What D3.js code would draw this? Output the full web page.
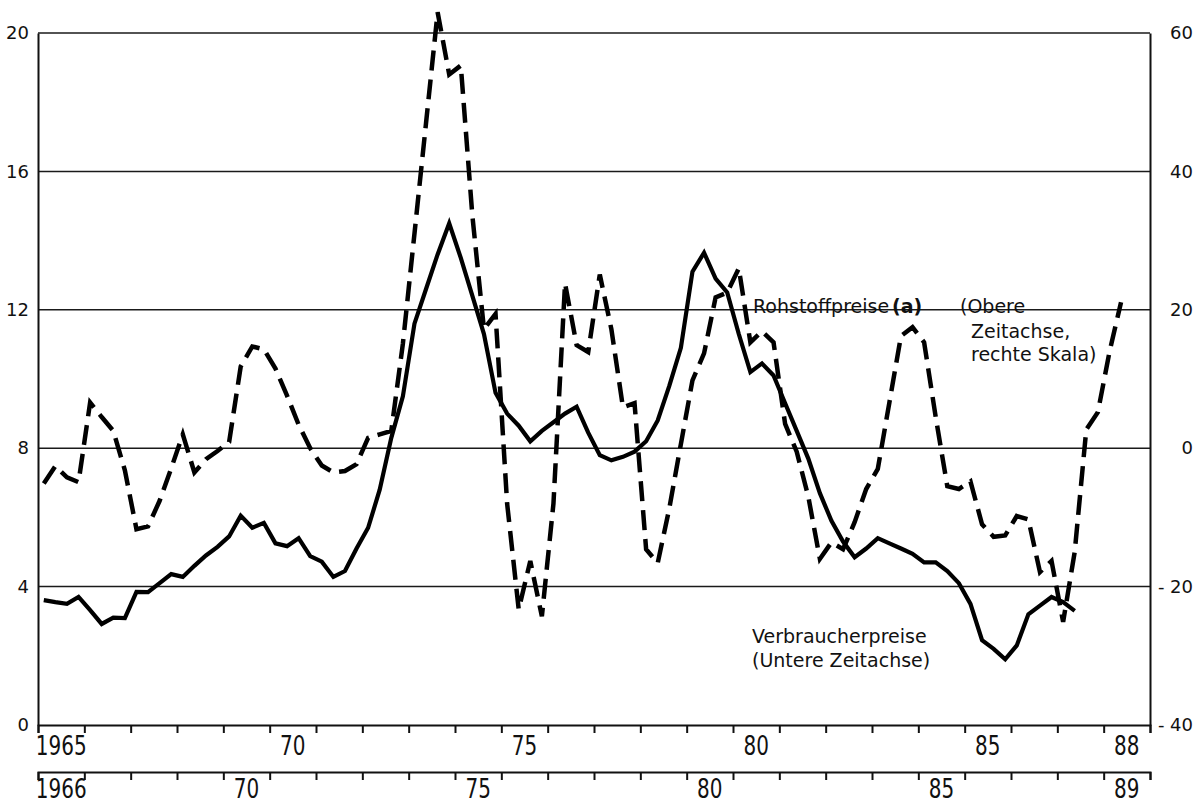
<!DOCTYPE html>
<html>
<head>
<meta charset="utf-8">
<script src="https://cdn.jsdelivr.net/npm/d3@7"></script>
<style>
  body { margin: 0; background: #fff; }
  svg { display: block; }
  text { font-family: "DejaVu Sans", sans-serif; fill: #111; }
</style>
</head>
<body>
<div id="chart"></div>
<script>
// Verbraucherpreise, quarterly from 1966 Q1 (left scale, lower time axis)
const consumerStart = 1966;
const consumerPrices = [
  3.61, 3.55, 3.50, 3.70, 3.32, 2.92, 3.10, 3.09, 3.85, 3.84,
  4.10, 4.36, 4.28, 4.60, 4.90, 5.15, 5.45, 6.05, 5.70, 5.84,
  5.25, 5.17, 5.40, 4.88, 4.72, 4.28, 4.45, 5.10, 5.70, 6.80,
  8.30, 9.50, 11.60, 12.60, 13.60, 14.50, 13.50, 12.40, 11.30, 9.60,
  9.00, 8.65, 8.20, 8.50, 8.75, 9.00, 9.20, 8.45, 7.80, 7.65,
  7.75, 7.90, 8.20, 8.80, 9.80, 10.90, 13.10, 13.65, 12.90, 12.50,
  11.30, 10.20, 10.45, 10.10, 9.30, 8.50, 7.70, 6.70, 5.90, 5.30,
  4.85, 5.10, 5.40, 5.25, 5.10, 4.95, 4.70, 4.70, 4.45, 4.10,
  3.50, 2.45, 2.20, 1.90, 2.30, 3.20, 3.45, 3.70, 3.55, 3.30
];

// Rohstoffpreise (a), quarterly from 1965 Q1 (right scale, upper time axis)
const commodityStart = 1965;
const commodityPrices = [
  -5.1, -2.6, -4.2, -4.9, 6.6, 4.5, 2.5, -3.2, -11.7, -11.3,
  -7.6, -2.9, 2.0, -3.5, -1.6, -0.4, 0.9, 11.8, 14.7, 14.3,
  11.5, 7.6, 3.4, 0.0, -2.5, -3.5, -3.3, -2.3, 1.5, 2.0,
  2.5, 15.1, 31.0, 47.0, 63.0, 54.0, 55.3, 33.6, 17.2, 19.4,
  -8.0, -23.3, -16.3, -24.3, -8.0, 23.8, 14.9, 13.9, 25.1, 17.2,
  5.9, 6.5, -14.6, -16.6, -8.7, 0.6, 9.8, 13.7, 21.8, 22.5,
  26.0, 15.3, 16.9, 15.3, 3.5, -0.5, -7.0, -16.0, -13.6, -14.6,
  -10.7, -5.9, -3.0, 6.6, 16.2, 17.5, 15.3, 4.5, -5.5, -5.9,
  -4.8, -11.0, -12.8, -12.6, -9.8, -10.3, -17.9, -16.3, -25.1, -15.0,
  2.7, 5.2, 13.9, 21.1
];

const leftTicks = [0, 4, 8, 12, 16, 20];
const rightTicks = [-40, -20, 0, 20, 40, 60];
const upperYears = [1965, 1970, 1975, 1980, 1985, 1988];
const upperLabels = ['1965', '70', '75', '80', '85', '88'];
const lowerYears = [1966, 1970, 1975, 1980, 1985, 1989];
const lowerLabels = ['1966', '70', '75', '80', '85', '89'];

const width = 1203, height = 805;
const plotLeft = 38, plotRight = 1150, plotTop = 33, plotBottom = 725;

const svg = d3.select('#chart').append('svg')
  .attr('width', width)
  .attr('height', height);

// Scales
const xUpper = d3.scaleLinear().domain([1965, 1989]).range([plotLeft, plotRight]);
const xLower = d3.scaleLinear().domain([1966, 1990]).range([plotLeft, plotRight]);
const yLeft = d3.scaleLinear().domain([0, 20]).range([plotBottom, plotTop]);
const yRight = d3.scaleLinear().domain([-40, 60]).range([plotBottom, plotTop]);

// Gridlines
svg.append('g')
  .selectAll('line')
  .data(leftTicks.filter(d => d > 0))
  .enter()
  .append('line')
  .attr('x1', plotLeft)
  .attr('x2', plotRight)
  .attr('y1', d => yLeft(d))
  .attr('y2', d => yLeft(d))
  .attr('stroke', '#1a1a1a')
  .attr('stroke-width', 1.5);

// Left scale
const leftAxis = svg.append('g')
  .attr('transform', `translate(${plotLeft},0)`)
  .call(d3.axisLeft(yLeft).tickValues(leftTicks).tickSize(0).tickSizeOuter(0).tickPadding(9));
leftAxis.select('.domain').attr('stroke', '#111').attr('stroke-width', 2);
leftAxis.selectAll('text').style('font-size', '18px').style('font-family', '"DejaVu Sans", sans-serif');

// Right scale
const rightAxis = svg.append('g')
  .attr('transform', `translate(${plotRight},0)`)
  .call(d3.axisRight(yRight).tickValues(rightTicks).tickSize(0).tickSizeOuter(0)
    .tickFormat(d => d < 0 ? '- ' + (-d) : d));
rightAxis.select('.domain').attr('stroke', '#111').attr('stroke-width', 2);
rightAxis.selectAll('text')
  .attr('x', 43)
  .attr('text-anchor', 'end')
  .style('font-size', '18px')
  .style('font-family', '"DejaVu Sans", sans-serif');

// Time axes
function timeAxis(scale, y, firstYear, years, labels, labelY) {
  const g = svg.append('g').attr('transform', `translate(0,${y})`);
  g.call(d3.axisBottom(scale)
    .tickValues(d3.range(firstYear, firstYear + 25))
    .tickSize(8)
    .tickSizeOuter(8)
    .tickFormat(''));
  g.select('.domain').attr('stroke', '#111').attr('stroke-width', 2);
  g.selectAll('.tick line').attr('stroke', '#111').attr('stroke-width', 2);
  g.selectAll('.year-label')
    .data(years)
    .enter()
    .append('text')
    .attr('class', 'year-label')
    .attr('text-anchor', 'middle')
    .attr('transform', d => `translate(${scale(d + 0.5)},${labelY}) scale(1,1.3)`)
    .style('font-size', '20px')
    .text((d, i) => labels[i]);
}
timeAxis(xUpper, plotBottom, 1965, upperYears, upperLabels, 30);
timeAxis(xLower, 772, 1966, lowerYears, lowerLabels, 26);

// Lines
const consumerLine = d3.line()
  .x((d, i) => xLower(consumerStart + (i + 0.5) / 4))
  .y(d => yLeft(d));

const commodityLine = d3.line()
  .x((d, i) => xUpper(commodityStart + (i + 0.5) / 4))
  .y(d => yRight(d));

svg.append('path')
  .datum(commodityPrices)
  .attr('d', commodityLine)
  .attr('fill', 'none')
  .attr('stroke', '#000')
  .attr('stroke-width', 4.5)
  .attr('stroke-dasharray', '20,9');

svg.append('path')
  .datum(consumerPrices)
  .attr('d', consumerLine)
  .attr('fill', 'none')
  .attr('stroke', '#000')
  .attr('stroke-width', 4.2)
  .attr('stroke-linejoin', 'miter');

// Annotations
const rohstoff = svg.append('text')
  .attr('x', 753)
  .attr('y', 313)
  .style('font-size', '19px');
rohstoff.append('tspan').text('Rohstoffpreise');
rohstoff.append('tspan').attr('dx', 3).style('font-weight', 'bold').text('(a)');
rohstoff.append('tspan').attr('x', 960).text('(Obere');

svg.append('text').attr('x', 971).attr('y', 338).style('font-size', '19px').text('Zeitachse,');
svg.append('text').attr('x', 971).attr('y', 361).style('font-size', '19px').text('rechte Skala)');

svg.append('text').attr('x', 752).attr('y', 643).style('font-size', '19px').text('Verbraucherpreise');
svg.append('text').attr('x', 752).attr('y', 667).style('font-size', '19px').text('(Untere Zeitachse)');
</script>
</body>
</html>
